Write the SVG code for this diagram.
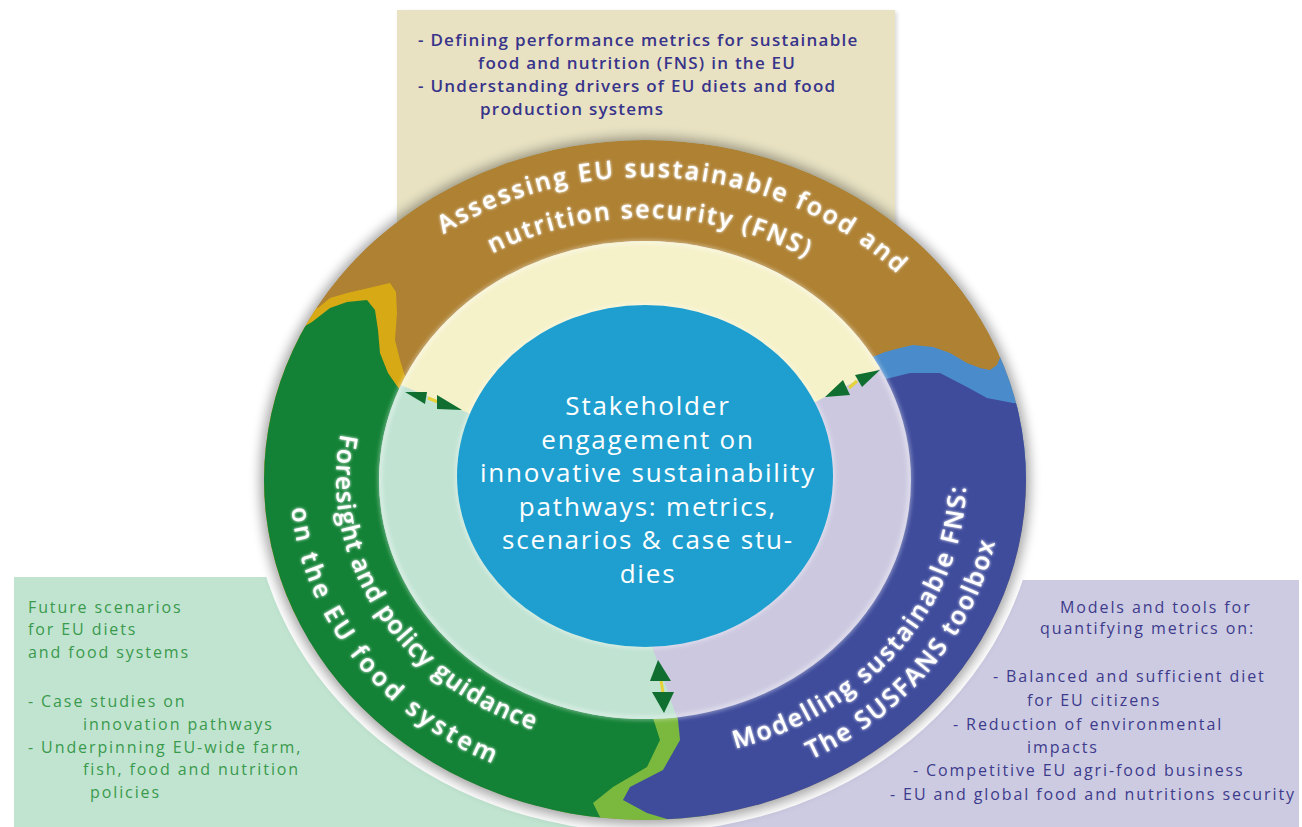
<svg xmlns="http://www.w3.org/2000/svg" width="1302" height="827" viewBox="0 0 1302 827">
<defs>
<style>
.ringtxt{font-family:"Open Sans","DejaVu Sans",sans-serif;font-weight:600;font-size:25px;letter-spacing:2px;fill:#ffffff}
.ctr{font-family:"Open Sans","DejaVu Sans",sans-serif;font-size:26px;letter-spacing:1.8px;fill:#ffffff;text-anchor:middle}
.toptxt{font-family:"Open Sans","DejaVu Sans",sans-serif;font-weight:600;font-size:17px;letter-spacing:1.25px;fill:#38348a}
.lefttxt{font-family:"Open Sans","DejaVu Sans",sans-serif;font-size:16px;letter-spacing:1.9px;fill:#3a9a4c}
.righttxt{font-family:"Open Sans","DejaVu Sans",sans-serif;font-size:16px;letter-spacing:1.9px;fill:#3d3b8c}
.head{fill:#0f6e30}
.link{stroke:#e8d23a;stroke-width:3}
.soft{fill:none;stroke:#ffffff;stroke-width:4;opacity:0.45}
</style>
<filter id="blur6" x="-10%" y="-10%" width="120%" height="120%"><feGaussianBlur stdDeviation="6"/></filter>
<filter id="blur2" x="-10%" y="-10%" width="120%" height="120%"><feGaussianBlur stdDeviation="2"/></filter>
<filter id="glow" x="-10%" y="-10%" width="120%" height="120%">
<feGaussianBlur in="SourceGraphic" stdDeviation="1.6" result="b"/>
<feMerge><feMergeNode in="b"/><feMergeNode in="SourceGraphic"/></feMerge>
</filter>
<clipPath id="outer"><ellipse cx="645" cy="480" rx="381" ry="340"/></clipPath>
<clipPath id="pale"><ellipse cx="645" cy="480" rx="266" ry="239"/></clipPath>
<clipPath id="lower"><rect x="0" y="470" width="1302" height="400"/></clipPath>
<path id="p1" d="M370.6,297.2 A344,303 0 0 1 957,352.4"/>
<path id="p2" d="M418.4,306.1 A303,262 0 0 1 879.5,314"/>
<path id="p3" d="M369.2,359.2 A309,268 0 0 0 612.7,746.5"/>
<path id="p4" d="M295.8,423.3 A355,314 0 0 0 577.9,788.3"/>
<path id="p5" d="M652.8,759.9 A321,280 0 0 0 953.6,402.8"/>
<path id="p6" d="M722.3,788.5 A357,316 0 0 0 1000.1,447.5"/>
</defs>
<rect width="1302" height="827" fill="#ffffff"/>

<g id="box-top">
<rect x="399" y="12" width="498" height="250" fill="#000" opacity="0.15" filter="url(#blur2)"/>
<rect x="397" y="10" width="498" height="250" fill="#e8e2c3"/>
<text class="toptxt" x="418" y="46">- Defining performance metrics for sustainable</text>
<text class="toptxt" x="478" y="69">food and nutrition (FNS) in the EU</text>
<text class="toptxt" x="418" y="92">- Understanding drivers of EU diets and food</text>
<text class="toptxt" x="480" y="115">production systems</text>
</g>

<g id="box-left">
<rect x="14" y="577" width="700" height="260" fill="#c1e4d1"/>
<text class="lefttxt" x="28" y="613">Future scenarios</text>
<text class="lefttxt" x="28" y="635">for EU diets</text>
<text class="lefttxt" x="28" y="658">and food systems</text>
<text class="lefttxt" x="28" y="707">- Case studies on</text>
<text class="lefttxt" x="83" y="730">innovation pathways</text>
<text class="lefttxt" x="28" y="753">- Underpinning EU-wide farm,</text>
<text class="lefttxt" x="83" y="775">fish, food and nutrition</text>
<text class="lefttxt" x="90" y="798">policies</text>
</g>

<g id="box-right">
<rect x="700" y="580" width="599" height="260" fill="#cdcbe2"/>
<text class="righttxt" x="1060" y="613">Models and tools for</text>
<text class="righttxt" x="1040" y="634">quantifying metrics on:</text>
<text class="righttxt" x="993" y="682">- Balanced and sufficient diet</text>
<text class="righttxt" x="1027" y="706">for EU citizens</text>
<text class="righttxt" x="953" y="730">- Reduction of environmental</text>
<text class="righttxt" x="1027" y="753">impacts</text>
<text class="righttxt" x="913" y="776">- Competitive EU agri-food business</text>
<text class="righttxt" x="890" y="800">- EU and global food and nutritions security</text>
</g>

<ellipse cx="645" cy="480" rx="394" ry="352" fill="#ffffff" clip-path="url(#lower)"/>
<ellipse cx="645" cy="481" rx="385" ry="344" fill="#000" opacity="0.35" filter="url(#blur6)"/>

<g id="outer-ring" clip-path="url(#outer)">
<g id="node-assessing">
<ellipse cx="645" cy="480" rx="381" ry="340" fill="#ae8133"/>
<path d="M300,310 L318,308 L330,298 L347,293 L373,287 L390,283 L396,292 L397,313 L395,340 L400,360 L408,386 L440,430 L240,700 L240,310 Z" fill="#d7a914"/>
</g>
<rect x="560" y="690" width="160" height="140" fill="#7ab93e"/>
<g id="node-foresight">
<path d="M290,335 L312,322 L330,308 L347,302 L367,300 L375,310 L378,330 L380,353 L388,373 L397,386 L430,430 L600,640 L653,718 L660,740 L647,767 L613,787 L593,803 L600,817 L610,830 L240,830 L240,335 Z" fill="#138236"/>
</g>
<g id="node-modelling">
<path d="M860,362 L885,352 L900,348 L913,345 L933,347 L950,353 L967,363 L980,368 L990,370 L997,365 L1003,350 L1040,350 L1040,480 L860,480 Z" fill="#4a8ccb"/>
<path d="M860,385 L890,378 L910,373 L940,373 L967,387 L987,398 L1013,403 L1040,405 L1040,830 L677,830 L677,822 L647,813 L623,800 L630,787 L663,770 L680,740 L678,720 L660,640 Z" fill="#3f4c9c"/>
</g>
</g>

<g id="inner-ring">
<g clip-path="url(#pale)">
<rect x="370" y="230" width="560" height="500" fill="#cbc8e0"/>
<path d="M645,480 L540,443 L287,338 L287,150 L1000,150 L970,322 L767,427 Z" fill="#f5f1c8"/>
<path d="M645,480 L540,443 L287,338 L250,800 L690,800 L690,755 L640,612 Z" fill="#c0e3d2"/>
</g>
<ellipse class="soft" cx="645" cy="480" rx="265" ry="238" filter="url(#blur2)"/>
</g>

<g id="node-center">
<ellipse cx="645" cy="476" rx="190" ry="173" fill="#ffffff" opacity="0.4" filter="url(#blur2)"/>
<ellipse cx="645" cy="476" rx="188" ry="171" fill="#1f9fd0"/>
<text class="ctr" x="648" y="415">Stakeholder</text>
<text class="ctr" x="648" y="448.5">engagement on</text>
<text class="ctr" x="648" y="482">innovative sustainability</text>
<text class="ctr" x="648" y="515.5">pathways: metrics,</text>
<text class="ctr" x="648" y="549">scenarios &amp; case stu-</text>
<text class="ctr" x="648" y="582.5">dies</text>
</g>

<g id="ring-labels" filter="url(#glow)">
<text class="ringtxt" text-anchor="middle" style="letter-spacing:2.3px"><textPath href="#p1" startOffset="50%">Assessing EU sustainable food and</textPath></text>
<text class="ringtxt" text-anchor="middle"><textPath href="#p2" startOffset="50%">nutrition security (FNS)</textPath></text>
<text class="ringtxt" text-anchor="middle" style="letter-spacing:1px"><textPath href="#p3" startOffset="50%">Foresight and policy guidance</textPath></text>
<text class="ringtxt" text-anchor="middle" style="letter-spacing:3.5px"><textPath href="#p4" startOffset="50%">on the EU food system</textPath></text>
<text class="ringtxt" text-anchor="middle"><textPath href="#p5" startOffset="50%">Modelling sustainable FNS:</textPath></text>
<text class="ringtxt" text-anchor="middle"><textPath href="#p6" startOffset="50%">The SUSFANS toolbox</textPath></text>
</g>

<g id="connectors">
<g id="arrow-top-left">
<line class="link" x1="428" y1="398" x2="438" y2="402"/>
<polygon class="head" points="405,392 427,392 425,404"/>
<polygon class="head" points="437,395 462,410 437,409"/>
</g>
<g id="arrow-top-right">
<line class="link" x1="849" y1="388" x2="857" y2="381"/>
<polygon class="head" points="825,397 843,380 850,395"/>
<polygon class="head" points="855,375 880,370 862,387"/>
</g>
<g id="arrow-bottom">
<line class="link" x1="661" y1="680" x2="663" y2="693"/>
<polygon class="head" points="658,660 650,681 671,681"/>
<polygon class="head" points="652,692 674,692 664,713"/>
</g>
</g>
</svg>
